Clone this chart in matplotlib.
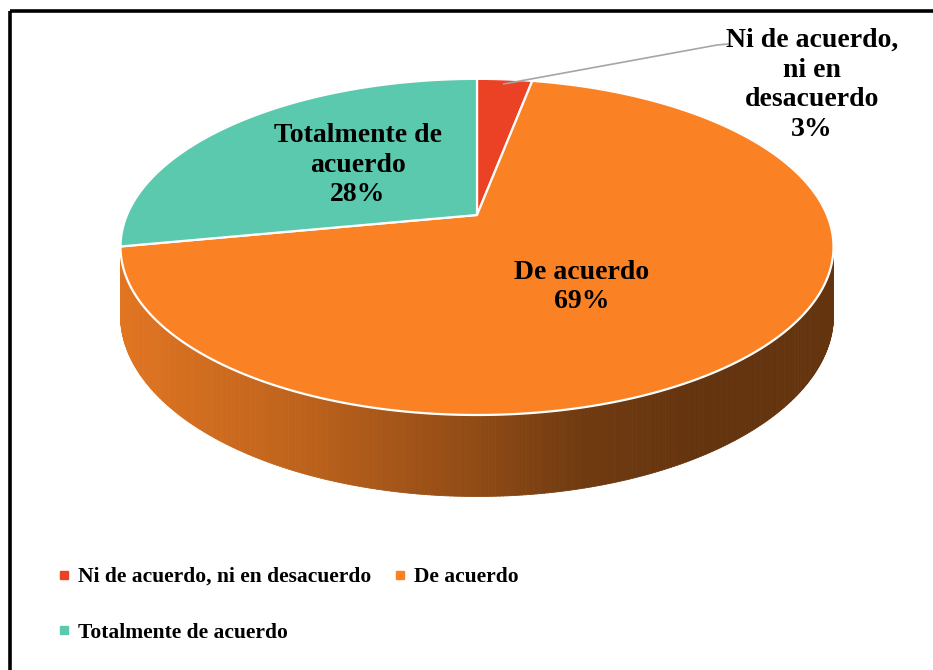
import matplotlib.pyplot as plt
import numpy as np
from matplotlib.collections import PolyCollection
from matplotlib.lines import Line2D
from matplotlib.patches import Polygon, Rectangle

# datos
categorias = ['Ni de acuerdo, ni en desacuerdo', 'De acuerdo', 'Totalmente de acuerdo']
porcentajes = [3, 69, 28]
nombres_etiqueta = ['Ni de acuerdo,\nni en\ndesacuerdo', 'De acuerdo', 'Totalmente de\nacuerdo']
colores = ['#EB4125', '#FA8225', '#5BC9AD']

plt.rcParams['font.family'] = ['Liberation Serif', 'DejaVu Serif']
plt.rcParams['font.weight'] = 'bold'

fig = plt.figure(figsize=(9.33, 6.70), dpi=100)
ax = fig.add_axes([0, 0, 1, 1])
ax.set_xlim(0, 933)
ax.set_ylim(670, 0)
ax.axis('off')

# geometria del pastel 3D (perspectiva)
cx, cy = 477, 215
B, A, k, D = 350, 162, 0.19, 66

def proyectar(t, r=1.0, prof=0.0):
    u = r * np.sin(t)
    v = r * np.cos(t)
    den = 1 + k * v
    return cx + B * u / den, cy - A * v / den + prof / den

# sombreado horizontal del costado
xs_sombra = [120, 300, 480, 580, 700, 840]
fs_sombra = [0.90, 0.76, 0.57, 0.45, 0.40, 0.40]

fracc = np.array(porcentajes) / sum(porcentajes)
limites = np.concatenate([[0], np.cumsum(fracc)]) * 2 * np.pi

# costado
paso = np.deg2rad(0.5)
ts = np.arange(0, 2 * np.pi + paso, paso)
quads, cols, prof_orden = [], [], []
for i in range(len(ts) - 1):
    t1, t2 = ts[i], ts[i + 1]
    tm = 0.5 * (t1 + t2)
    idx = min(np.searchsorted(limites, tm) - 1, len(colores) - 1)
    p1 = proyectar(t1); p2 = proyectar(t2)
    p3 = proyectar(t2, prof=D); p4 = proyectar(t1, prof=D)
    xm = 0.25 * (p1[0] + p2[0] + p3[0] + p4[0])
    f = np.interp(xm, xs_sombra, fs_sombra)
    base = np.array(plt.matplotlib.colors.to_rgb(colores[idx]))
    quads.append([p1, p2, p3, p4])
    cols.append(tuple(base * f))
    prof_orden.append(np.cos(tm))
orden = np.argsort(prof_orden)[::-1]
pc = PolyCollection([quads[i] for i in orden], facecolors=[cols[i] for i in orden],
                    edgecolors=[cols[i] for i in orden], linewidths=0.6, zorder=1)
ax.add_collection(pc)

# cara superior
for i, col in enumerate(colores):
    tt = np.linspace(limites[i], limites[i + 1], 200)
    px, py = proyectar(tt)
    verts = np.column_stack([np.r_[cx, px], np.r_[cy, py]])
    ax.add_patch(Polygon(verts, closed=True, facecolor=col, edgecolor='white',
                         linewidth=1.6, joinstyle='round', zorder=2))

# etiquetas
pos_etiquetas = [(812, 85), (582, 287), (358, 165)]
for nombre, p, (x, y) in zip(nombres_etiqueta, porcentajes, pos_etiquetas):
    ax.text(x, y, f'{nombre}\n{p}%', ha='center', va='center', fontsize=20,
            fontweight='bold', linespacing=1.24, zorder=4)

# linea guia de la etiqueta pequena
tm = 0.5 * (limites[0] + limites[1])
gx, gy = proyectar(tm, r=0.96)
ax.plot([gx, 717, 728], [gy, 45, 44], color='#A6A6A6', lw=1.2, zorder=3)

# leyenda
manejadores = [Line2D([], [], marker='s', ls='', markersize=5.5, color=c) for c in colores]
orden_ley = [0, 2, 1]
ax.legend([manejadores[i] for i in orden_ley], [categorias[i] for i in orden_ley],
          ncol=2, loc='upper left', bbox_to_anchor=(58 / 933, 1 - 567 / 670),
          bbox_transform=fig.transFigure, frameon=False,
          handlelength=0.6, handletextpad=0.35, columnspacing=1.0,
          labelspacing=1.65, borderpad=0, borderaxespad=0,
          prop={'weight': 'bold', 'size': 15.5})

# marco
ax.add_patch(Rectangle((10, 11), 1000, 1000, fill=False, edgecolor='black',
                       linewidth=2.6, clip_on=False, zorder=5))

fig.savefig('out.png', dpi=100)
